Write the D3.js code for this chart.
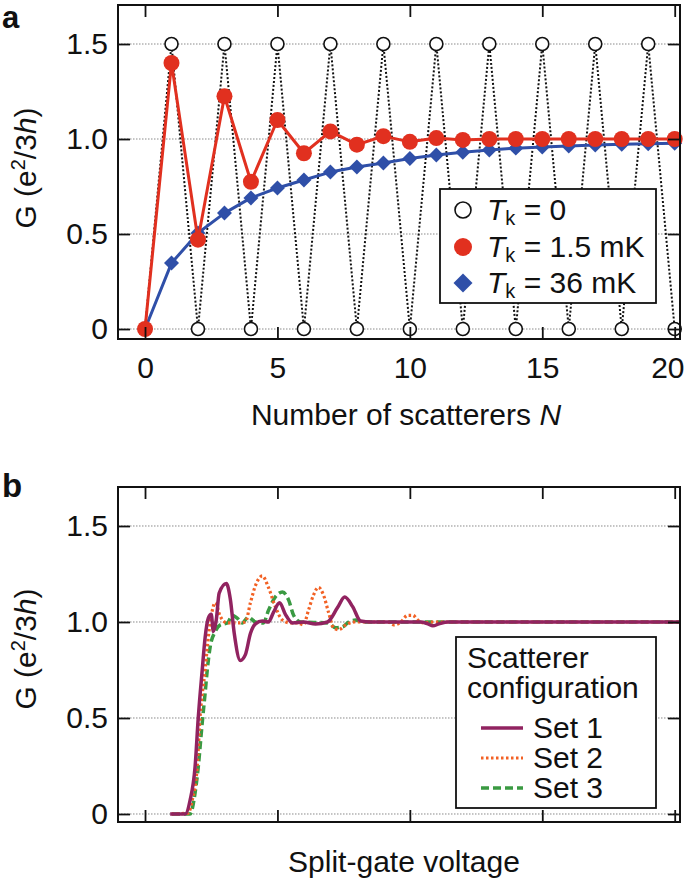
<!DOCTYPE html>
<html>
<head>
<meta charset="utf-8">
<script src="https://cdn.jsdelivr.net/npm/d3@7"></script>
<style>
html,body{margin:0;padding:0;background:#fff;}
svg{display:block;}
text{font-family:"Liberation Sans",Arial,Helvetica,sans-serif;fill:#111;}
</style>
</head>
<body>
<svg id="chart" width="685" height="881"></svg>
<script>
// ---------- Panel a data ----------
const nValues = [0,1,2,3,4,5,6,7,8,9,10,11,12,13,14,15,16,17,18,19,20];
const gTk0    = [0,1.5,0,1.5,0,1.5,0,1.5,0,1.5,0,1.5,0,1.5,0,1.5,0,1.5,0,1.5,0];
const gTk15   = [0,1.40,0.47,1.225,0.775,1.10,0.925,1.04,0.97,1.015,0.985,1.005,0.995,1.0,1.0,1.0,1.0,1.0,1.0,1.0,1.0];
const gTk36   = [0,0.347,0.505,0.61,0.69,0.742,0.784,0.826,0.853,0.874,0.897,0.916,0.93,0.942,0.952,0.958,0.963,0.968,0.972,0.975,0.978];
const legendA = ["0","1.5 mK","36 mK"];

// ---------- Panel b data (split-gate voltage, arbitrary units) ----------
const set1X = [0.95,1.52,1.70,1.89,2.01,2.16,2.27,2.39,2.50,2.58,2.69,2.80,3.07,3.22,3.37,3.60,3.79,3.98,4.17,4.43,4.66,4.85,5.08,5.30,5.57,5.98,6.44,6.89,7.27,7.54,7.84,8.14,8.52,10.42,10.68,10.87,11.10,11.44,20.2];
const set1Y = [0,0,0.07,0.245,0.50,0.75,0.92,1.02,1.04,0.95,1.01,1.15,1.20,1.12,0.94,0.80,0.83,0.94,0.99,1.005,1.0,1.05,1.10,1.04,0.995,1.0,0.99,1.0,1.075,1.13,1.08,1.005,1.0,1.0,0.99,0.98,0.99,1.0,1.0];
const set2X = [1.00,1.63,1.78,1.97,2.08,2.27,2.39,2.54,2.65,2.84,3.11,3.48,3.79,3.98,4.17,4.43,4.66,4.92,5.19,5.49,5.76,5.98,6.17,6.36,6.55,6.74,6.93,7.12,7.31,7.58,7.88,9.17,9.39,9.66,9.92,10.11,10.30,10.53,10.80,20.2];
const set2Y = [0,0.005,0.07,0.245,0.505,0.75,0.92,1.06,1.10,1.03,0.995,0.995,1.0,1.10,1.19,1.24,1.18,1.08,1.01,0.995,0.995,0.985,1.06,1.14,1.18,1.14,1.05,0.97,0.96,0.985,1.0,1.0,0.985,1.0,1.035,1.035,1.01,0.995,1.0,1.0];
const set3X = [1.02,1.70,1.89,2.01,2.16,2.27,2.35,2.46,2.65,2.84,3.11,3.30,3.48,3.67,3.90,4.17,4.47,4.66,4.92,5.19,5.42,5.61,5.87,6.89,7.20,7.46,7.69,7.95,8.22,20.2];
const set3Y = [0,0,0.11,0.245,0.475,0.63,0.75,0.87,0.95,0.985,0.995,1.035,1.02,0.995,1.025,1.0,0.995,1.06,1.13,1.156,1.115,1.035,1.0,0.995,0.97,0.975,1.0,1.01,1.0,1.0];
const legendB = ["Set 1","Set 2","Set 3"];

// ---------- Ticks ----------
const yTicks = [0,0.5,1.0,1.5];
const yTickLabels = ["0","0.5","1.0","1.5"];
const xTicks = [0,5,10,15,20];
const xTickLabels = ["0","5","10","15","20"];

const colors = {red:"#e1301f", blue:"#2f4fa8", s1:"#912360", s2:"#f26124", s3:"#3a9a42"};

const svg = d3.select("#chart");
const FS = 30;

function grid(g, x, y){
  const [x0,x1] = x.range();
  g.append("g").selectAll("line").data(yTicks).join("line")
    .attr("x1",x0).attr("x2",x1).attr("y1",d=>y(d)).attr("y2",d=>y(d))
    .attr("stroke","#8a8a8a").attr("stroke-width",1).attr("stroke-dasharray","1.5,1.5");
}

function axes(g, x, y, showXLabels){
  const [x0,x1] = x.range();
  const [yb,yt] = y.range();
  const left = d3.axisLeft(y).tickValues(yTicks).tickFormat((d,i)=>yTickLabels[i]).tickSizeInner(-12).tickSizeOuter(0).tickPadding(10);
  const right = d3.axisRight(y).tickValues(yTicks).tickFormat("").tickSizeInner(-12).tickSizeOuter(0);
  const top = d3.axisTop(x).tickValues(xTicks).tickFormat("").tickSizeInner(-12).tickSizeOuter(0);
  const bottom = d3.axisBottom(x).tickValues(xTicks).tickFormat((d,i)=>showXLabels?xTickLabels[i]:"").tickSizeInner(-12).tickSizeOuter(0).tickPadding(18);
  const gl = g.append("g").attr("transform",`translate(${x0},0)`).call(left);
  const gr = g.append("g").attr("transform",`translate(${x1},0)`).call(right);
  const gt = g.append("g").attr("transform",`translate(0,${yt})`).call(top);
  const gb = g.append("g").attr("transform",`translate(0,${yb})`).call(bottom);
  [gl,gr,gt,gb].forEach(a=>{
    a.select(".domain").remove();
    a.selectAll("line").attr("stroke","#111").attr("stroke-width",1.8);
    a.selectAll("text").attr("font-size",FS).attr("font-family","Liberation Sans, Arial, sans-serif").attr("fill","#111");
  });
  // keep the last x label inside the picture
  gb.selectAll(".tick text").filter(d=>d===20).attr("text-anchor","end").attr("x",684-x(20));
  g.append("rect").attr("x",x0).attr("y",yt).attr("width",x1-x0).attr("height",yb-yt)
    .attr("fill","none").attr("stroke","#111").attr("stroke-width",2);
}

function ylabel(g, cx, cy){
  const t = g.append("text").attr("transform",`translate(${cx},${cy}) rotate(-90)`)
    .attr("text-anchor","middle").attr("font-size",FS);
  t.append("tspan").text("G (e");
  t.append("tspan").attr("font-size",20).attr("dy",-11).text("2");
  t.append("tspan").attr("dy",11).text("/3");
  t.append("tspan").attr("font-style","italic").text("h");
  t.append("tspan").text(")");
}

// ================= Panel a =================
const xa = d3.scaleLinear().domain([-1.02,20.2]).range([118,680]);
const ya = d3.scaleLinear().domain([-0.0526,1.7053]).range([339,5]);
const ga = svg.append("g");
grid(ga, xa, ya);

const ptsT0 = nValues.map((n,i)=>[n,gTk0[i]]);
const ptsT15 = nValues.map((n,i)=>[n,gTk15[i]]);
const ptsT36 = nValues.map((n,i)=>[n,gTk36[i]]);

const lineA = d3.line().x(d=>xa(d[0])).y(d=>ya(d[1]));
ga.append("path").attr("d",lineA(ptsT0)).attr("fill","none").attr("stroke","#111")
  .attr("stroke-width",2).attr("stroke-dasharray","2,2");

const legAx=440, legAy=189, legAw=216, legAh=114;
ga.append("rect").attr("x",legAx).attr("y",legAy).attr("width",legAw).attr("height",legAh)
  .attr("fill","#fff").attr("stroke","#111").attr("stroke-width",1.8);

ga.selectAll("circle.t0").data(ptsT0).join("circle").attr("class","t0")
  .attr("cx",d=>xa(d[0])).attr("cy",d=>ya(d[1])).attr("r",6.5)
  .attr("fill","#fff").attr("stroke","#111").attr("stroke-width",1.6);

ga.append("path").attr("d",lineA(ptsT36))
  .attr("fill","none").attr("stroke",colors.blue).attr("stroke-width",3).attr("stroke-linejoin","round");
ga.selectAll("path.dia").data(ptsT36).join("path").attr("class","dia")
  .attr("d",d3.symbol().type(d3.symbolSquare).size(112)())
  .attr("transform",d=>`translate(${xa(d[0])},${ya(d[1])}) rotate(45)`)
  .attr("fill",colors.blue);

ga.append("path").attr("d",lineA(ptsT15)).attr("fill","none").attr("stroke",colors.red).attr("stroke-width",3).attr("stroke-linejoin","round");
ga.selectAll("circle.t15").data(ptsT15).join("circle").attr("class","t15")
  .attr("cx",d=>xa(d[0])).attr("cy",d=>ya(d[1])).attr("r",8).attr("fill",colors.red);

axes(ga, xa, ya, true);

// legend a content
const rowsA = [210,247,283];
ga.append("circle").attr("cx",463).attr("cy",rowsA[0]).attr("r",8).attr("fill","#fff").attr("stroke","#111").attr("stroke-width",1.6);
ga.append("circle").attr("cx",463).attr("cy",rowsA[1]).attr("r",9).attr("fill",colors.red);
ga.append("path").attr("d",d3.symbol().type(d3.symbolSquare).size(180)())
  .attr("transform",`translate(463,${rowsA[2]}) rotate(45)`).attr("fill",colors.blue);
legendA.forEach((lab,i)=>{
  const t = ga.append("text").attr("x",487).attr("y",rowsA[i]+10).attr("font-size",FS);
  t.append("tspan").attr("font-style","italic").text("T");
  t.append("tspan").attr("font-size",20).attr("dy",5).text("k");
  t.append("tspan").attr("dy",-5).text(" = " + lab);
});

ga.append("text").attr("x",2).attr("y",28).attr("font-size",31).attr("font-weight","bold").text("a");
ylabel(ga, 36, 168);
const xlA = ga.append("text").attr("x",406).attr("y",425).attr("text-anchor","middle").attr("font-size",FS);
xlA.append("tspan").text("Number of scatterers ");
xlA.append("tspan").attr("font-style","italic").text("N");

// ================= Panel b =================
const xb = d3.scaleLinear().domain([-1.02,20.2]).range([118,680]);
const yb = d3.scaleLinear().domain([-0.0417,1.7031]).range([822,487]);
const gb = svg.append("g");
grid(gb, xb, yb);

const lineB = d3.line().x(d=>xb(d[0])).y(d=>yb(d[1])).curve(d3.curveMonotoneX);
const s1 = set1X.map((x,i)=>[x,set1Y[i]]);
const s2 = set2X.map((x,i)=>[x,set2Y[i]]);
const s3 = set3X.map((x,i)=>[x,set3Y[i]]);

gb.append("path").attr("d",lineB(s3)).attr("fill","none").attr("stroke",colors.s3)
  .attr("stroke-width",3.5).attr("stroke-dasharray","8,4");
gb.append("path").attr("d",lineB(s2)).attr("fill","none").attr("stroke",colors.s2)
  .attr("stroke-width",3.2).attr("stroke-dasharray","2.5,2.5");
gb.append("path").attr("d",lineB(s1)).attr("fill","none").attr("stroke",colors.s1)
  .attr("stroke-width",3.5);

axes(gb, xb, yb, false);

// legend b
gb.append("rect").attr("x",456).attr("y",637).attr("width",200).attr("height",171)
  .attr("fill","#fff").attr("stroke","#111").attr("stroke-width",1.8);
gb.append("text").attr("x",467).attr("y",668).attr("font-size",FS).text("Scatterer");
gb.append("text").attr("x",467).attr("y",698).attr("font-size",FS).text("configuration");
const rowsB = [728,758,788];
const styles = [{c:colors.s1,w:3.5,d:null},{c:colors.s2,w:3.2,d:"2.5,2.5"},{c:colors.s3,w:3.5,d:"8,4"}];
legendB.forEach((lab,i)=>{
  const l = gb.append("line").attr("x1",481).attr("x2",523).attr("y1",rowsB[i]).attr("y2",rowsB[i])
    .attr("stroke",styles[i].c).attr("stroke-width",styles[i].w);
  if(styles[i].d) l.attr("stroke-dasharray",styles[i].d);
  gb.append("text").attr("x",533).attr("y",rowsB[i]+10).attr("font-size",FS).text(lab);
});

gb.append("text").attr("x",2).attr("y",497).attr("font-size",33).attr("font-weight","bold").text("b");
ylabel(gb, 36, 649);
gb.append("text").attr("x",404).attr("y",872).attr("text-anchor","middle").attr("font-size",FS).text("Split-gate voltage");
</script>
</body>
</html>
